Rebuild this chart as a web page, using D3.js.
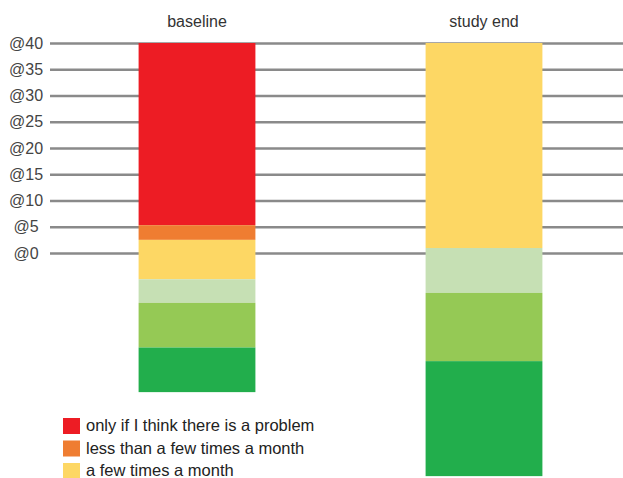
<!DOCTYPE html>
<html lang="en">
<head>
<meta charset="utf-8">
<script src="https://cdnjs.cloudflare.com/ajax/libs/d3/7.8.5/d3.min.js"></script>
<style>
  body { margin: 0; background: #fff; }
  svg { display: block; font-family: "Liberation Sans", Arial, sans-serif; }
</style>
</head>
<body>
<script>
    var w = 623;
    var h = 478;

    // data
    var categories = ["baseline", "study end"];
    var tickValues = [0, 5, 10, 15, 20, 25, 30, 35, 40];
    var tickLabels = ["@0", "@5", "@10", "@15", "@20", "@25", "@30", "@35", "@40"];
    var seriesNames = [
        "only if I think there is a problem",
        "less than a few times a month",
        "a few times a month",
        "about once a week",
        "a few times a week",
        "every day"
    ];
    var seriesColors = ["#ed1c24", "#ef7d31", "#fdd764", "#c6e0b4", "#95c955", "#22ae4c"];
    // segment sizes per category, stacked downward from the top value
    var redVals = [34.7, 0];
    var orangeVals = [2.8, 0];
    var yellowVals = [7.5, 39.05];
    var lightGreenVals = [4.5, 8.55];
    var midGreenVals = [8.5, 13.0];
    var darkGreenVals = [8.5, 21.9];
    var stackTop = 40;
    var legendItems = seriesNames.slice(0, 3);

    var seriesVals = [redVals, orangeVals, yellowVals, lightGreenVals, midGreenVals, darkGreenVals];
    var rows = categories.map(function (c, i) {
        var r = { cat: c };
        seriesNames.forEach(function (s, j) { r[s] = seriesVals[j][i]; });
        return r;
    });

    // stack downward: start at stackTop and subtract
    var stacked = d3.stack().keys(seriesNames)
        .offset(function (series, order) {
            d3.stackOffsetNone(series, order);
            series.forEach(function (s) {
                s.forEach(function (p) {
                    var a = stackTop - p[0], b = stackTop - p[1];
                    p[0] = b; p[1] = a;
                });
            });
        })(rows);

    var svg = d3.select("body").append("svg")
        .attr("width", w)
        .attr("height", h);

    var x = d3.scaleBand()
        .domain(categories)
        .range([52.5, 628.5])
        .paddingInner(0.593)
        .paddingOuter(0.3);

    var y = d3.scaleLinear()
        .domain([0, 40])
        .range([253, 43]);

    // gridlines + labels
    var yAxis = d3.axisLeft(y)
        .tickValues(tickValues)
        .tickFormat(function (d, i) { return tickLabels[i]; })
        .tickSize(-(w - 50))
        .tickPadding(0);

    var gAxis = svg.append("g")
        .attr("transform", "translate(50,0)")
        .call(yAxis);
    gAxis.select(".domain").remove();
    gAxis.selectAll(".tick line")
        .attr("stroke", "#8a8a8a")
        .attr("stroke-width", 2.5);
    gAxis.selectAll(".tick text")
        .attr("x", -24)
        .attr("text-anchor", "middle")
        .attr("fill", "#444")
        .attr("font-size", "16px");

    // bars
    svg.append("g").selectAll("g")
        .data(stacked)
        .join("g")
        .attr("fill", function (d, i) { return seriesColors[i]; })
        .selectAll("rect")
        .data(function (d) { return d; })
        .join("rect")
        .attr("x", function (d) { return x(d.data.cat); })
        .attr("width", x.bandwidth())
        .attr("y", function (d) { return y(d[1]); })
        .attr("height", function (d) { return y(d[0]) - y(d[1]); });

    // category labels
    svg.append("g").selectAll("text")
        .data(categories)
        .join("text")
        .attr("x", function (d) { return x(d) + x.bandwidth() / 2; })
        .attr("y", 27)
        .attr("text-anchor", "middle")
        .attr("font-size", "16px")
        .attr("fill", "#333")
        .text(function (d) { return d; });

    // legend
    var legend = svg.append("g").selectAll("g")
        .data(legendItems)
        .join("g")
        .attr("transform", function (d, i) { return "translate(63," + (418 + i * 22.5) + ")"; });
    legend.append("rect")
        .attr("width", 17)
        .attr("height", 16)
        .attr("fill", function (d, i) { return seriesColors[i]; });
    legend.append("text")
        .attr("x", 23)
        .attr("y", 13)
        .attr("font-size", "16.5px")
        .attr("fill", "#222")
        .text(function (d) { return d; });
</script>
</body>
</html>
